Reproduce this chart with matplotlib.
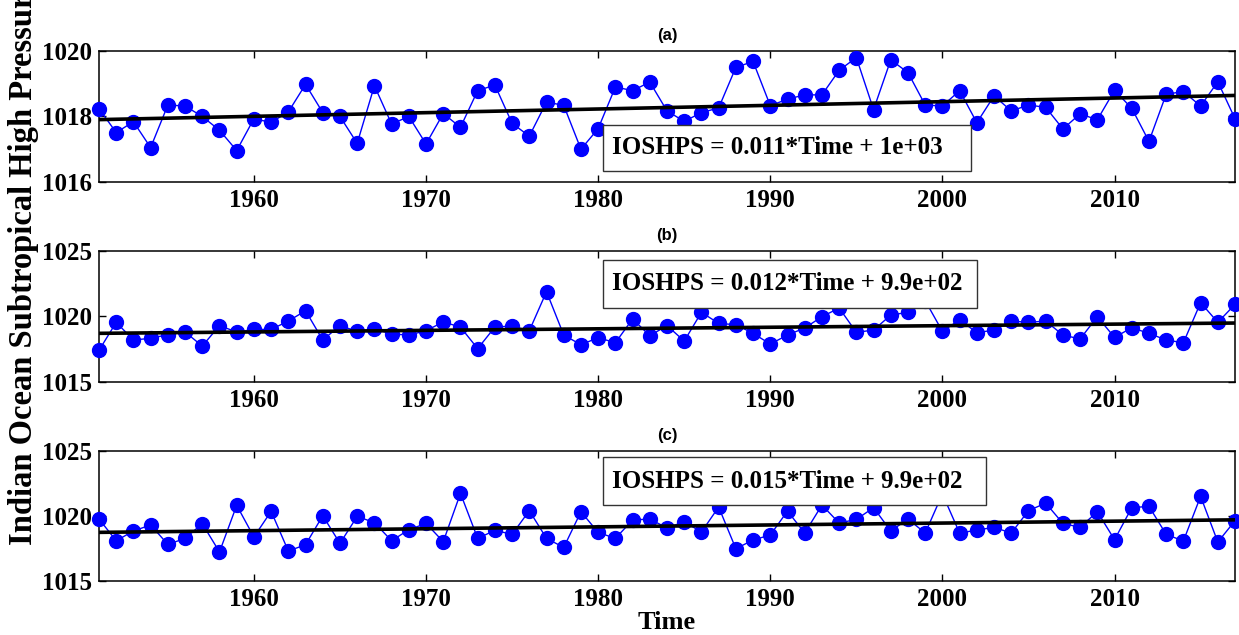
import numpy as np
from matplotlib import pyplot as plt
from matplotlib.patches import Rectangle

years = list(range(1951, 2018))

# (a)
ioshps_a = [1018.24, 1017.51, 1017.84, 1017.05, 1018.35, 1018.32, 1018.00, 1017.58, 1016.96, 1017.93,
            1017.82, 1018.14, 1018.98, 1018.12, 1018.00, 1017.18, 1018.94, 1017.77, 1018.00, 1017.16,
            1018.09, 1017.67, 1018.79, 1018.96, 1017.79, 1017.40, 1018.44, 1018.34, 1017.00, 1017.63,
            1018.90, 1018.79, 1019.05, 1018.17, 1017.85, 1018.12, 1018.26, 1019.50, 1019.68, 1018.33,
            1018.53, 1018.66, 1018.66, 1019.41, 1019.80, 1018.21, 1019.73, 1019.34, 1018.35, 1018.32,
            1018.79, 1017.81, 1018.63, 1018.17, 1018.35, 1018.28, 1017.62, 1018.08, 1017.90, 1018.80,
            1018.25, 1017.24, 1018.68, 1018.76, 1018.32, 1019.06, 1017.93]
# (b)
ioshps_b = [1017.40, 1019.54, 1018.19, 1018.32, 1018.60, 1018.80, 1017.73, 1019.29, 1018.80, 1019.00,
            1019.00, 1019.64, 1020.43, 1018.19, 1019.29, 1018.85, 1019.03, 1018.65, 1018.57, 1018.90,
            1019.57, 1019.18, 1017.53, 1019.18, 1019.26, 1018.90, 1021.89, 1018.57, 1017.83, 1018.37,
            1017.98, 1019.80, 1018.52, 1019.29, 1018.11, 1020.31, 1019.46, 1019.36, 1018.70, 1017.88,
            1018.57, 1019.11, 1019.97, 1020.64, 1018.78, 1018.95, 1020.10, 1020.31, 1021.20, 1018.85,
            1019.74, 1018.75, 1018.95, 1019.64, 1019.54, 1019.64, 1018.57, 1018.27, 1019.97, 1018.39,
            1019.13, 1018.70, 1018.19, 1017.98, 1021.05, 1019.54, 1020.92]
# (c)
ioshps_c = [1019.76, 1018.09, 1018.84, 1019.30, 1017.81, 1018.27, 1019.40, 1017.23, 1020.81, 1018.38,
            1020.35, 1017.30, 1017.79, 1020.01, 1017.89, 1019.96, 1019.48, 1018.09, 1018.94, 1019.42,
            1018.02, 1021.73, 1018.27, 1018.89, 1018.58, 1020.40, 1018.27, 1017.58, 1020.32, 1018.73,
            1018.27, 1019.68, 1019.76, 1019.07, 1019.55, 1018.76, 1020.68, 1017.48, 1018.15, 1018.53,
            1020.37, 1018.68, 1020.83, 1019.45, 1019.73, 1020.63, 1018.84, 1019.76, 1018.68, 1021.68,
            1018.68, 1018.91, 1019.12, 1018.68, 1020.40, 1020.98, 1019.42, 1019.12, 1020.32, 1018.17,
            1020.63, 1020.73, 1018.58, 1018.07, 1021.50, 1017.99, 1019.63]

panel_titles = ['(a)', '(b)', '(c)']
equations = ['IOSHPS = 0.011*Time + 1e+03',
             'IOSHPS = 0.012*Time + 9.9e+02',
             'IOSHPS = 0.015*Time + 9.9e+02']
ylims = [(1016, 1020), (1015, 1025), (1015, 1025)]
yticks = [[1016, 1018, 1020], [1015, 1020, 1025], [1015, 1020, 1025]]
xticks = [1960, 1970, 1980, 1990, 2000, 2010]

serif = 'Liberation Serif'

fig = plt.figure(figsize=(12.39, 6.35), dpi=100)

# axes rectangles: left, bottom, width, height
ax_pos = [[0.0799, 0.7134, 0.9169, 0.2063],
          [0.0799, 0.3989, 0.9169, 0.2058],
          [0.0799, 0.0850, 0.9169, 0.2052]]
# equation box: x0, y0, x1, y1 (axes fraction), text y
box_pos = [[0.4437, 0.084, 0.7676, 0.435, 0.26],
           [0.4437, 0.564, 0.7729, 0.931, 0.748],
           [0.4437, 0.583, 0.7808, 0.952, 0.767]]

series = [ioshps_a, ioshps_b, ioshps_c]

for i in range(3):
    ax = fig.add_axes(ax_pos[i])
    y = np.array(series[i])
    x = np.array(years)
    ax.plot(x, y, color='blue', linewidth=1, marker='o', markersize=10,
            markerfacecolor='blue', markeredgecolor='blue', zorder=3, clip_on=False)
    p = np.polyfit(x, y, 1)
    ax.plot(x, np.polyval(p, x), color='black', linewidth=2.6, zorder=4)

    ax.set_xlim(1951, 2017)
    ax.set_ylim(*ylims[i])
    ax.set_xticks(xticks)
    ax.set_yticks(yticks[i])
    ax.tick_params(direction='in', top=True, right=True, length=5, width=1, pad=5)
    for lbl in ax.get_xticklabels() + ax.get_yticklabels():
        lbl.set_fontfamily(serif)
        lbl.set_fontweight('bold')
        lbl.set_fontsize(18)
    for s in ax.spines.values():
        s.set_linewidth(1.1)
    ax.set_title(panel_titles[i], fontsize=12, fontweight='bold',
                 fontfamily='Liberation Sans', pad=8)

    b = box_pos[i]
    ax.add_patch(Rectangle((b[0], b[1]), b[2] - b[0], b[3] - b[1], transform=ax.transAxes,
                           facecolor='white', edgecolor='#333333', linewidth=1, zorder=5))
    ax.text(b[0] + 0.008, b[4], equations[i], transform=ax.transAxes, ha='left', va='center',
            fontsize=18, fontweight='bold', fontfamily=serif, zorder=6)

    if i == 2:
        ax.set_xlabel('Time', fontsize=19, fontweight='bold', fontfamily=serif, labelpad=0)

fig.text(0.019, 0.142, 'Indian Ocean Subtropical High Pressure', rotation=90,
         ha='center', va='bottom', fontsize=23.5, fontweight='bold', fontfamily=serif)

fig.savefig('out.png', dpi=100)
